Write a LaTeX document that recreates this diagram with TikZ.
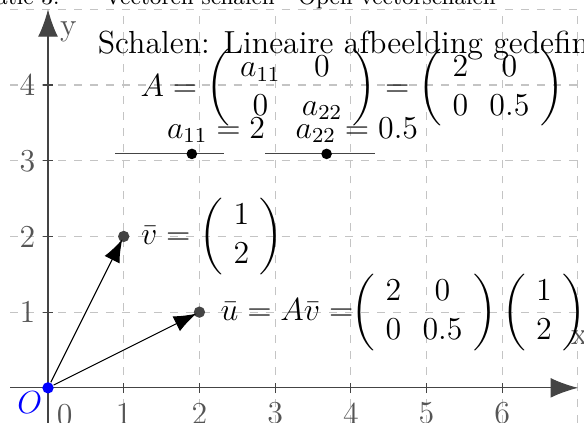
\documentclass[12pt,tikz,border=0pt]{standalone}
\usepackage{amsmath,amssymb}
\usepackage{tikz}
\usetikzlibrary{arrows.meta,positioning}
\usepackage{xcolor}
\definecolor{asgrijs}{HTML}{444444}
\definecolor{rastergrijs}{HTML}{C4C4C4}
\definecolor{labelgrijs}{HTML}{555555}
\setlength{\arraycolsep}{4pt}

\begin{document}
\begin{tikzpicture}[
    raster/.style={rastergrijs, dashed, thin},
    as/.style={asgrijs, thin, -{Latex[length=3.6mm,width=2.6mm]}},
    vec/.style={black, thin, -{Latex[length=3mm,width=2.2mm]}, shorten >=-0.4mm},
    punt/.style={circle, fill=asgrijs, inner sep=0pt, minimum size=1.5mm},
    knop/.style={circle, fill=black, inner sep=0pt, minimum size=1.4mm},
    schuif/.style={asgrijs, thin},
    getal/.style={labelgrijs}
]
    \useasboundingbox (-0.634,-0.464) rectangle (7.08,5.123);

    % rooster
    \draw[raster] (-0.5,-0.464) grid (7.08,5);

    % assen
    \draw[as] (-0.5,0) -- (7,0);
    \draw[as] (0,-0.464) -- (0,5);
    \foreach \i in {1,...,6} {
        \draw[asgrijs] (\i,-0.07) -- (\i,0.07);
        \node[getal] (xt\i) at (\i,-0.34) {\i};
    }
    \foreach \j in {1,...,4} {
        \draw[asgrijs] (-0.07,\j) -- (0.07,\j);
        \node[getal] (yt\j) at (-0.27,\j) {\j};
    }
    \node[getal] (xt0) at (0.22,-0.36) {0};
    \node[getal] (xlab) at (7.02,0.66) {x};
    \node[getal] (ylab) at (0.27,4.7) {y};

    % titel (afgesneden)
    \node[anchor=base west, font=\fontsize{8.5}{10}\selectfont] (kop) at (-1.645,5.057) {Illustratie 3:\qquad Vectoren schalen - Open vectorschalen};

    % punten en vectoren
    \node[circle, fill=blue, inner sep=0pt, minimum size=1.5mm] (O) at (0,0) {};
    \node[blue] (Olab) at (-0.24,-0.19) {$O$};
    \node[punt] (V) at (1,2) {};
    \node[punt] (U) at (2,1) {};
    \draw[vec] (O) -- (V);
    \draw[vec] (O) -- (U);

    % labels
    \node[right=0 of V] (vlab) {$\bar{v} = \left(\begin{array}{c} 1\\ 2 \end{array}\right)$};
    \node[right=0.05 of U] (ulab) {$\bar{u} = A\bar{v} = \!\!\left(\begin{array}{cc} 2 & 0\\ 0 & 0.5 \end{array}\right) \left(\begin{array}{c} 1\\ 2 \end{array}\right)$};

    % tekst en matrix
    \node[anchor=base west] (tekst) at (0.51,4.41) {Schalen: Lineaire afbeelding gedefinieerd};
    \node[anchor=west] (matA) at (1.075,3.96) {$A = \left(\begin{array}{cc} a_{11} & 0\\ 0 & a_{22} \end{array}\right) = \left(\begin{array}{cc} 2 & 0\\ 0 & 0.5 \end{array}\right)$};

    % schuifregelaars
    \coordinate (s1a) at (0.885,3.09);
    \coordinate (s1b) at (2.33,3.09);
    \coordinate (s2a) at (2.87,3.09);
    \coordinate (s2b) at (4.32,3.09);
    \draw[schuif] (s1a) -- (s1b);
    \draw[schuif] (s2a) -- (s2b);
    \node[knop] (k1) at (1.9,3.09) {};
    \node[knop] (k2) at (3.68,3.09) {};
    \node[anchor=base] (a1lab) at (2.22,3.3) {$a_{11} = 2$};
    \node[anchor=base] (a2lab) at (4.08,3.3) {$a_{22} = 0.5$};
\end{tikzpicture}
\end{document}
